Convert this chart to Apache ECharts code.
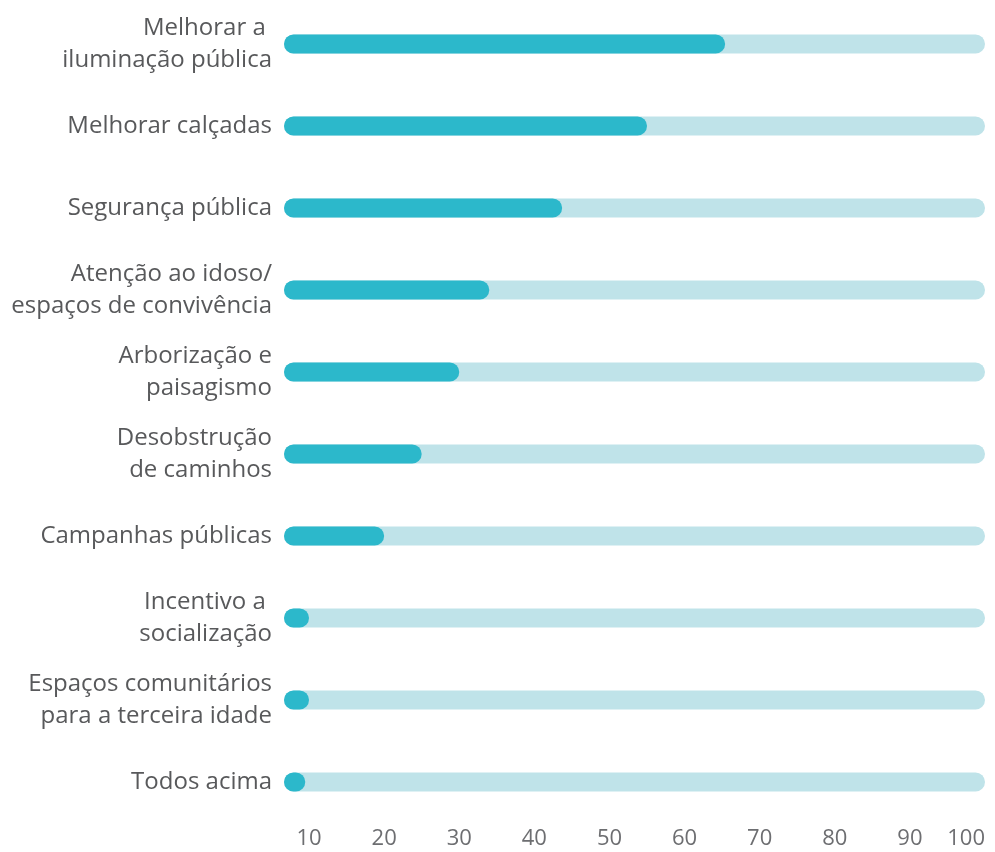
<!DOCTYPE html>
<html><head><meta charset="utf-8">
<script src="https://cdn.jsdelivr.net/npm/echarts@6/dist/echarts.min.js"></script>
<style>html,body{margin:0;padding:0;background:#fff}#c{width:995px;height:852px}</style>
</head><body><div id="c"></div>
<script>
const categories = [
  "Melhorar a \niluminação pública",
  "Melhorar calçadas",
  "Segurança pública",
  "Atenção ao idoso/\nespaços de convivência",
  "Arborização e\npaisagismo",
  "Desobstrução\nde caminhos",
  "Campanhas públicas",
  "Incentivo a \nsocialização",
  "Espaços comunitários\npara a terceira idade",
  "Todos acima"
];
const values = [65.4, 55, 43.7, 34, 30, 25, 20, 10, 10, 9.5];
const trackValues = [100, 100, 100, 100, 100, 100, 100, 100, 100, 100];
const tickValues = [10, 20, 30, 40, 50, 60, 70, 80, 90, 100];

const chart = echarts.init(document.getElementById('c'));
chart.setOption({
  animation: false,
  grid: { left: 284, right: 10, top: 3, bottom: 29, containLabel: false },
  xAxis: {
    type: 'value', min: 20/3, max: 100,
    axisLine: { show: false }, axisTick: { show: false }, splitLine: { show: false },
    axisLabel: {
      customValues: tickValues, color: '#6d6e71', fontSize: 22,
      fontFamily: 'Open Sans', margin: 5, alignMaxLabel: 'right'
    }
  },
  yAxis: {
    type: 'category', data: categories, inverse: true,
    axisLine: { show: false }, axisTick: { show: false },
    axisLabel: { color: '#58595b', fontSize: 24, fontFamily: 'Open Sans', lineHeight: 32, margin: 12, align: 'right' }
  },
  series: [
    { type: 'bar', data: trackValues, barWidth: 19, barGap: '-100%', silent: true,
      itemStyle: { color: '#bfe3e9', borderRadius: 10 }, z: 1 },
    { type: 'bar', data: values, barWidth: 19,
      itemStyle: { color: '#2cb8cb', borderRadius: 10 }, z: 2 }
  ]
});
</script></body></html>
